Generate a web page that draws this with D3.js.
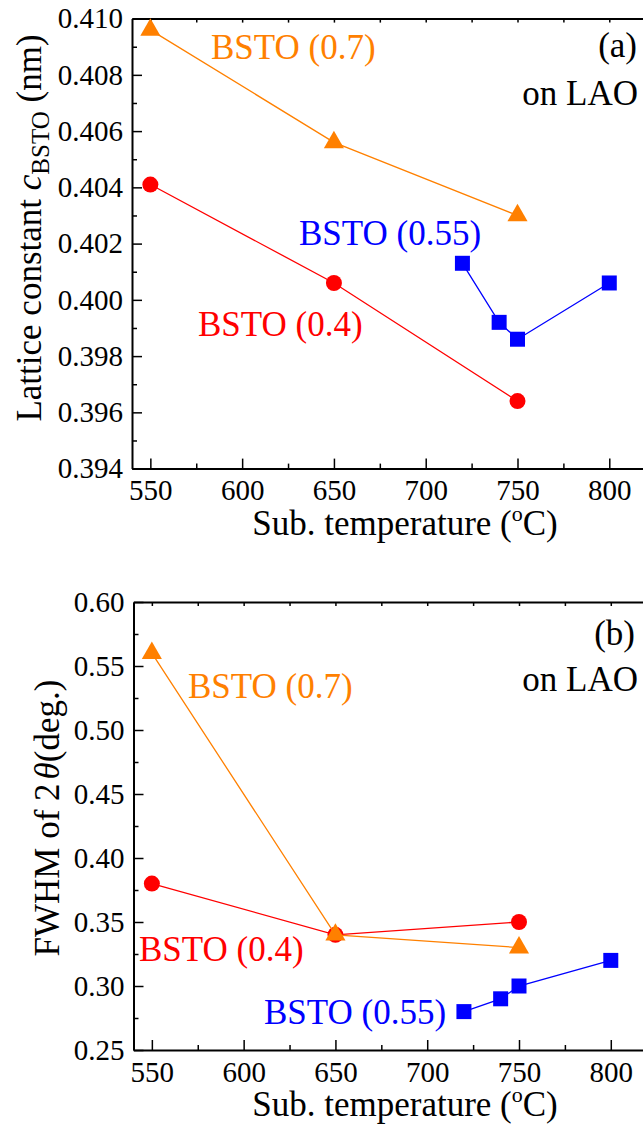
<!DOCTYPE html>
<html>
<head>
<meta charset="utf-8">
<script src="https://cdn.jsdelivr.net/npm/d3@7"></script>
<style>
  body { margin: 0; background: #fff; }
  svg, svg text { font-family: "Liberation Serif", "DejaVu Serif", "Times New Roman", serif; }
</style>
</head>
<body>
<div id="chart"></div>
<script>
"use strict";

var w = 643,
  h = 1124;
var SERIF = "'Liberation Serif', 'DejaVu Serif', 'Times New Roman', serif";

// data
var temps = [550, 650, 750];
var temps055 = [720, 740, 750, 800];

var latt07 = [0.4096, 0.4056, 0.4030];
var latt04 = [0.4041, 0.4006, 0.3964];
var latt055 = [0.4013, 0.3992, 0.3986, 0.4006];

var fwhm07 = [0.56, 0.34, 0.33];
var fwhm04 = [0.38, 0.34, 0.35];
var fwhm055 = [0.28, 0.29, 0.30, 0.32];

var xTicks = [550, 600, 650, 700, 750, 800];
var xMinor = [575, 625, 675, 725, 775];
var latticeTicks = [0.394, 0.396, 0.398, 0.400, 0.402, 0.404, 0.406, 0.408, 0.410];
var latticeMinor = [0.395, 0.397, 0.399, 0.401, 0.403, 0.405, 0.407, 0.409];
var fwhmTicks = [0.25, 0.30, 0.35, 0.40, 0.45, 0.50, 0.55, 0.60];
var fwhmMinor = [0.275, 0.325, 0.375, 0.425, 0.475, 0.525, 0.575];

var ORANGE = "#ff8000",
  RED = "#ff0000",
  BLUE = "#0000ff";

var svg = d3.select("#chart").append("svg").attr("width", w).attr("height", h)
  .attr("font-family", SERIF);

/**
 * Draw one panel (frame, axes, series, labels).
 */
var drawPanel = function (p) {
  var x = d3.scaleLinear().domain([540, 820]).range([p.left, p.left + 514]);
  var y = d3.scaleLinear().domain(p.yDomain).range([p.bottom, p.top]);
  var g = svg.append("g");

  // bottom axis, inward ticks
  g.append("g").attr("transform", "translate(0," + p.bottom + ")")
    .call(d3.axisBottom(x).tickValues(xTicks).tickSizeInner(-10).tickSizeOuter(0).tickPadding(11));
  g.append("g").attr("transform", "translate(0," + p.bottom + ")")
    .call(d3.axisBottom(x).tickValues(xMinor).tickSizeInner(-5).tickSizeOuter(0).tickFormat(""))
    .select(".domain").remove();

  // top axis, small ticks
  g.append("g").attr("transform", "translate(0," + p.top + ")")
    .call(d3.axisTop(x).tickValues(xTicks.concat(xMinor)).tickSizeInner(-4).tickSizeOuter(0).tickFormat(""));

  // left axis
  g.append("g").attr("transform", "translate(" + p.left + ",0)")
    .call(d3.axisLeft(y).tickValues(p.ticks).tickSizeInner(-10).tickSizeOuter(0).tickPadding(9).tickFormat(d3.format(p.fmt)));
  g.append("g").attr("transform", "translate(" + p.left + ",0)")
    .call(d3.axisLeft(y).tickValues(p.minor).tickSizeInner(-5).tickSizeOuter(0).tickFormat(""))
    .select(".domain").remove();

  g.selectAll(".domain").attr("stroke", "#000").attr("stroke-width", 2);
  g.selectAll(".tick line").attr("stroke", "#000").attr("stroke-width", 1.5);
  g.selectAll("g").attr("font-family", SERIF);
  g.selectAll(".tick text").attr("font-size", 29).attr("fill", "#000")
    .attr("font-family", SERIF);

  // series
  var line = d3.line().x(function (d) { return x(d[0]); }).y(function (d) { return y(d[1]); });
  p.series.forEach(function (s) {
    var pts = d3.zip(s.xs, s.ys);
    g.append("path").datum(pts).attr("d", line)
      .attr("fill", "none").attr("stroke", s.color).attr("stroke-width", 1.3);
    g.selectAll(null).data(pts).enter().append("path")
      .attr("transform", function (d) { return "translate(" + x(d[0]) + "," + y(d[1]) + ")"; })
      .attr("d", d3.symbol().type(s.symbol).size(s.size))
      .attr("fill", s.color);
  });

  // in-plot labels
  p.labels.forEach(function (l) {
    g.append("text").attr("x", l.x).attr("y", l.y)
      .attr("text-anchor", l.anchor || "start")
      .attr("font-family", SERIF)
      .attr("font-size", 35).attr("fill", l.color || "#000")
      .text(l.text);
  });

  // x title
  var xt = g.append("text").attr("x", 405).attr("y", p.bottom + 66)
    .attr("text-anchor", "middle").attr("font-size", 35).attr("font-family", SERIF);
  xt.append("tspan").text("Sub. temperature (");
  xt.append("tspan").attr("font-size", 22).attr("dy", -14).text("o");
  xt.append("tspan").attr("dy", 14).text("C)");

  // y title
  var yt = g.append("text")
    .attr("transform", "translate(" + p.titleX + "," + p.titleY + ") rotate(-90)")
    .attr("text-anchor", "middle").attr("font-size", 35).attr("font-family", SERIF);
  p.title(yt);
};

drawPanel({
  left: 132, top: 18.6, bottom: 468.6,
  yDomain: [0.394, 0.410], ticks: latticeTicks, minor: latticeMinor, fmt: ".3f",
  series: [
    { xs: temps, ys: latt04, color: RED, symbol: d3.symbolCircle, size: 201 },
    { xs: temps, ys: latt07, color: ORANGE, symbol: d3.symbolTriangle, size: 175 },
    { xs: temps055, ys: latt055, color: BLUE, symbol: d3.symbolSquare, size: 225 }
  ],
  labels: [
    { text: "BSTO (0.7)", x: 211, y: 59, color: ORANGE },
    { text: "(a)", x: 637, y: 57, anchor: "end" },
    { text: "on LAO", x: 638, y: 105, anchor: "end" },
    { text: "BSTO (0.55)", x: 299, y: 245, color: BLUE },
    { text: "BSTO (0.4)", x: 198, y: 336, color: RED }
  ],
  titleX: 41, titleY: 228,
  title: function (t) {
    t.append("tspan").text("Lattice constant ");
    t.append("tspan").attr("font-style", "italic").text("c");
    t.append("tspan").attr("font-size", 25).attr("dy", 8).text("BSTO");
    t.append("tspan").attr("dy", -8).text(" (nm)");
  }
});

drawPanel({
  left: 133.5, top: 602, bottom: 1050,
  yDomain: [0.25, 0.60], ticks: fwhmTicks, minor: fwhmMinor, fmt: ".2f",
  series: [
    { xs: temps, ys: fwhm04, color: RED, symbol: d3.symbolCircle, size: 201 },
    { xs: temps, ys: fwhm07, color: ORANGE, symbol: d3.symbolTriangle, size: 175 },
    { xs: temps055, ys: fwhm055, color: BLUE, symbol: d3.symbolSquare, size: 225 }
  ],
  labels: [
    { text: "(b)", x: 635, y: 645, anchor: "end" },
    { text: "on LAO", x: 638, y: 691, anchor: "end" },
    { text: "BSTO (0.7)", x: 188, y: 698, color: ORANGE },
    { text: "BSTO (0.4)", x: 139, y: 961, color: RED },
    { text: "BSTO (0.55)", x: 264, y: 1024, color: BLUE }
  ],
  titleX: 59, titleY: 818,
  title: function (t) {
    t.append("tspan").text("FWHM of 2");
    t.append("tspan").attr("font-style", "italic").attr("dx", 4).text("θ");
    t.append("tspan").text("(deg.)");
  }
});
</script>
</body>
</html>
